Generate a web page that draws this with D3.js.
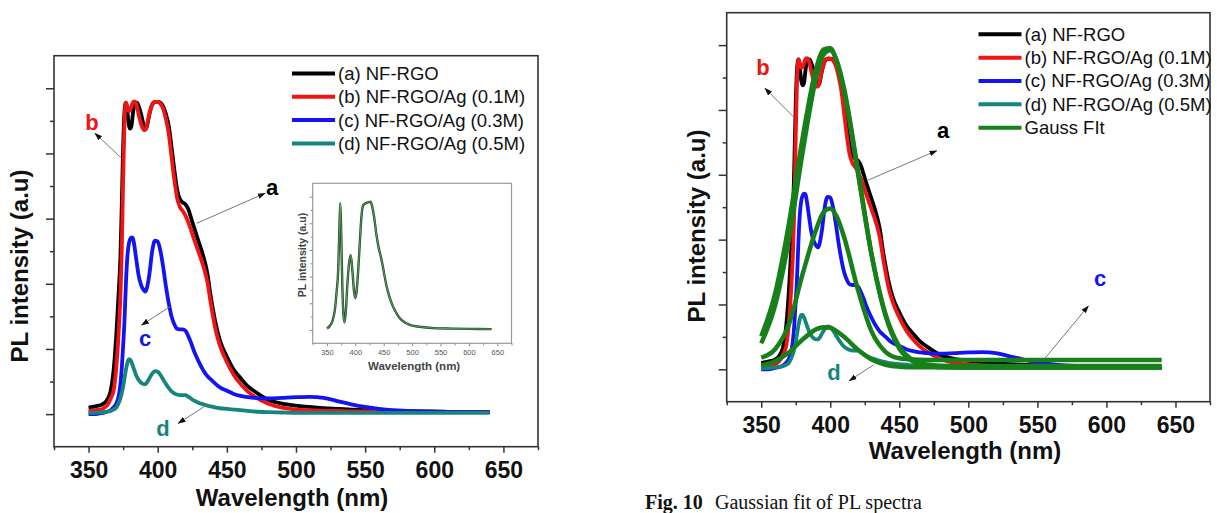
<!DOCTYPE html>
<meta charset="utf-8">
<style>

body {
  margin: 0;
  background: #fff;
}

svg {
  display: block;
  font-family: "Liberation Sans", Arial, sans-serif;
}

.axis path, .axis line {
  stroke: #333;
  stroke-width: 1.5;
}

.axis text {
  font: bold 23px "Liberation Sans", Arial, sans-serif;
  fill: #111;
}

.inset .axis path, .inset .axis line {
  stroke: #888;
  stroke-width: 1;
}

.inset .axis text {
  font: 7.5px "Liberation Sans", Arial, sans-serif;
  fill: #555;
}

.title {
  font-weight: bold;
  font-size: 24px;
  fill: #111;
}

.legend text {
  font-size: 18.5px;
  fill: #111;
}

.mark {
  font-weight: bold;
  font-size: 22px;
}

.pointer {
  stroke: #777;
  stroke-width: 1;
}

</style>
<svg width="1217" height="513"></svg>
<script src="https://d3js.org/d3.v7.min.js"></script>
<script>

// wavelength grid (nm) shared by the four measured spectra
var wave = [350,355,360,364,366,368,370,372,373,374,
            375,376,377,378,379,380,381,382,383,384,
            385,386,388,390,391,392,394,396,398,400,
            402,404,406,408,410,412,414,416,418,420,
            422,424,426,428,430,433,436,438,440,442,
            445,450,455,460,465,470,480,490,500,510,
            520,530,540,550,560,570,580,600,620,640];

// (a) NF-RGO
var pl_a = [0.10,0.12,0.15,0.24,0.36,0.65,1.2,1.95,2.4,3.2,
            4.1,4.65,4.78,4.65,4.45,4.38,4.42,4.6,4.74,4.78,
            4.78,4.74,4.6,4.42,4.37,4.4,4.6,4.75,4.79,4.79,
            4.78,4.72,4.6,4.42,4.1,3.75,3.45,3.3,3.25,3.22,
            3.15,3.02,2.88,2.75,2.62,2.42,2.15,1.85,1.6,1.38,
            1.13,0.88,0.68,0.55,0.43,0.35,0.22,0.16,0.13,0.11,
            0.09,0.08,0.07,0.06,0.05,0.05,0.04,0.04,0.03,0.03];

// (b) NF-RGO/Ag (0.1M)
var pl_b = [0.05,0.06,0.08,0.15,0.24,0.35,0.7,1.35,1.8,2.5,
            3.6,4.5,4.78,4.72,4.65,4.66,4.72,4.78,4.8,4.78,
            4.72,4.62,4.45,4.36,4.36,4.42,4.62,4.75,4.79,4.79,
            4.76,4.68,4.52,4.3,3.95,3.6,3.32,3.18,3.12,3.05,
            2.95,2.83,2.7,2.58,2.46,2.27,2.02,1.75,1.5,1.28,
            1.05,0.8,0.6,0.46,0.35,0.27,0.16,0.1,0.07,0.06,
            0.05,0.05,0.04,0.04,0.04,0.03,0.03,0.03,0.03,0.03];

// (c) NF-RGO/Ag (0.3M)
var pl_c = [0.0,0.0,0.02,0.04,0.06,0.1,0.16,0.3,0.45,0.7,
            1.05,1.45,2.0,2.4,2.6,2.68,2.71,2.7,2.6,2.45,
            2.3,2.15,1.98,1.9,1.88,1.92,2.15,2.5,2.66,2.65,
            2.5,2.25,1.95,1.7,1.5,1.38,1.31,1.3,1.3,1.28,
            1.2,1.1,0.98,0.88,0.79,0.67,0.58,0.54,0.5,0.46,
            0.41,0.36,0.31,0.28,0.26,0.25,0.24,0.25,0.26,0.265,
            0.25,0.2,0.15,0.11,0.08,0.06,0.05,0.035,0.03,0.03];

// (d) NF-RGO/Ag (0.5M)
var pl_d = [0.02,0.02,0.03,0.04,0.05,0.07,0.1,0.18,0.24,0.32,
            0.42,0.55,0.68,0.78,0.84,0.84,0.8,0.74,0.68,0.62,
            0.57,0.53,0.48,0.46,0.46,0.48,0.55,0.62,0.66,0.65,
            0.6,0.53,0.46,0.4,0.35,0.32,0.3,0.29,0.29,0.29,
            0.27,0.24,0.21,0.19,0.17,0.15,0.13,0.12,0.11,0.1,
            0.09,0.08,0.07,0.06,0.05,0.04,0.03,0.025,0.02,0.02,
            0.02,0.02,0.02,0.02,0.02,0.02,0.02,0.02,0.02,0.02];

// Gauss fit curves
var fitWave = [350,360,370,380,390,395,400,405,410,420,430,440,450,460,470,480,500,550,600,640];
var fit_a = [0.51,1.16,2.24,3.57,4.66,4.93,4.95,4.73,4.29,3.03,1.76,0.85,0.35,0.14,0.073,0.055,0.05,0.05,0.05,0.05];
var fit_b = [0.40,0.98,2.0,3.35,4.52,4.85,4.92,4.74,4.33,3.07,1.76,0.83,0.32,0.12,0.05,0.035,0.03,0.03,0.03,0.03];
var fit_c = [0.18,0.31,0.69,1.47,2.17,2.42,2.48,2.34,2.04,1.23,0.58,0.27,0.17,0.15,0.145,0.145,0.145,0.145,0.145,0.145];
var fit_d = [0.06,0.125,0.26,0.46,0.62,0.65,0.64,0.58,0.50,0.30,0.15,0.07,0.04,0.03,0.03,0.03,0.03,0.03,0.03,0.03];

// inset spectrum
var insetWave = [350,355,360,364,367,370,372,373.5,375,377,379,381,383,386,389,392,395,398,400,402,
                 405,408,411,414,418,423,427,430,433,437,441,446,450,455,460,465,470,478,486,496,
                 510,525,545,570,600,640];
var insetPL = [0.06,0.15,0.35,0.75,1.4,2.3,3.8,4.75,3.8,1.8,0.6,0.28,0.6,1.7,2.5,2.8,2.2,1.4,1.2,1.4,
               2.2,3.3,4.3,4.68,4.75,4.79,4.81,4.6,4.25,3.6,3.1,2.65,2.2,1.65,1.25,0.95,0.72,0.45,0.3,0.19,
               0.13,0.09,0.06,0.05,0.04,0.03];

var xTicks = [350,400,450,500,550,600,650];
var xMinor = [325,375,425,475,525,575,625,675];
var yTicks = [0,1,2,3,4,5];
var yMinor = [0.5,1.5,2.5,3.5,4.5];

var names = ["(a) NF-RGO", "(b) NF-RGO/Ag (0.1M)", "(c) NF-RGO/Ag (0.3M)", "(d) NF-RGO/Ag (0.5M)"];
var colors = ["#000000", "#f01414", "#1414f0", "#16857d"];
var fitName = "Gauss FIt";
var fitColor = "#17801a";

var svg = d3.select("svg");

svg.append("defs").append("marker")
    .attr("id", "head")
    .attr("viewBox", "0 0 10 10")
    .attr("refX", 9).attr("refY", 5)
    .attr("markerWidth", 8).attr("markerHeight", 8)
    .attr("orient", "auto")
  .append("path")
    .attr("d", "M0,1.5L10,5L0,8.5z")
    .attr("fill", "#111");

function frameAxes(g, x, y, box, cls, sizes) {
  g.append("rect")
      .attr("x", box.x0).attr("y", box.y0)
      .attr("width", box.x1 - box.x0).attr("height", box.y1 - box.y0)
      .attr("fill", "none")
      .attr("stroke", cls == "inset" ? "#999" : "#333")
      .attr("stroke-width", cls == "inset" ? 1.2 : 1.6);

  g.append("g").attr("class", "axis")
      .attr("transform", "translate(0," + box.y1 + ")")
      .call(d3.axisBottom(x).tickValues(xTicks).tickSize(sizes.major).tickSizeOuter(0).tickPadding(sizes.pad))
      .call(s => s.select(".domain").remove());
  g.append("g").attr("class", "axis")
      .attr("transform", "translate(0," + box.y1 + ")")
      .call(d3.axisBottom(x).tickValues(xMinor).tickSize(sizes.minor).tickSizeOuter(0).tickFormat(""))
      .call(s => s.select(".domain").remove());
  g.append("g").attr("class", "axis")
      .attr("transform", "translate(" + box.x0 + ",0)")
      .call(d3.axisLeft(y).tickValues(yTicks).tickSize(sizes.ymajor).tickSizeOuter(0).tickFormat(""))
      .call(s => s.select(".domain").remove());
  g.append("g").attr("class", "axis")
      .attr("transform", "translate(" + box.x0 + ",0)")
      .call(d3.axisLeft(y).tickValues(yMinor).tickSize(sizes.yminor).tickSizeOuter(0).tickFormat(""))
      .call(s => s.select(".domain").remove());
}

function pointer(g, from, to) {
  g.append("line")
      .attr("class", "pointer")
      .attr("x1", from[0]).attr("y1", from[1])
      .attr("x2", to[0]).attr("y2", to[1])
      .attr("marker-end", "url(#head)");
}

function drawPanel(p) {
  var x = d3.scaleLinear().domain([325, 675]).range([p.x0, p.x1]);
  var y = d3.scaleLinear().domain([-0.5, 5.5]).range([p.y1, p.y0]);
  var g = svg.append("g");

  frameAxes(g, x, y, p, "main", {major: 6, minor: 3.5, ymajor: 8, yminor: 4, pad: 9});

  var line = d3.line()
      .x((d, i) => x(wave[i]))
      .y(d => y(d))
      .curve(d3.curveMonotoneX);

  [pl_a, pl_b, pl_c, pl_d].forEach(function(s, i) {
    g.append("path")
        .attr("d", line(s))
        .attr("fill", "none")
        .attr("stroke", colors[i])
        .attr("stroke-width", 3.8)
        .attr("stroke-linejoin", "round");
  });

  if (p.fits) {
    var fline = d3.line()
        .x((d, i) => x(fitWave[i]))
        .y(d => y(d))
        .curve(d3.curveMonotoneX);
    [fit_d, fit_c, fit_b, fit_a].forEach(function(s) {
      g.append("path")
          .attr("d", fline(s))
          .attr("fill", "none")
          .attr("stroke", fitColor)
          .attr("stroke-width", 4.5)
          .attr("stroke-linejoin", "round");
    });
  }

  // axis titles
  g.append("text")
      .attr("class", "title")
      .attr("x", p.xt[0]).attr("y", p.xt[1])
      .attr("text-anchor", "middle")
      .text("Wavelength (nm)");
  g.append("text")
      .attr("class", "title")
      .attr("transform", "translate(" + p.yt[0] + "," + p.yt[1] + ") rotate(-90)")
      .attr("text-anchor", "middle")
      .text("PL intensity (a.u)");

  // legend
  var leg = g.append("g").attr("class", "legend");
  var items = names.map((n, i) => ({name: n, color: colors[i]}));
  if (p.fits) items.push({name: fitName, color: fitColor});
  items.forEach(function(d, i) {
    var ly = p.leg[1] + i * p.leg[2];
    leg.append("line")
        .attr("x1", p.leg[0]).attr("x2", p.leg[0] + 43)
        .attr("y1", ly).attr("y2", ly)
        .attr("stroke", d.color)
        .attr("stroke-width", 4);
    leg.append("text")
        .attr("x", p.leg[0] + 46).attr("y", ly)
        .attr("dy", "0.35em")
        .text(d.name);
  });

  // letter marks with pointers
  p.marks.forEach(function(m, i) {
    pointer(g, m.from, m.to);
    g.append("text")
        .attr("class", "mark")
        .attr("x", m.at[0]).attr("y", m.at[1])
        .attr("dy", "0.35em")
        .attr("text-anchor", "middle")
        .attr("fill", colors[m.k])
        .text("abcd"[m.k]);
  });

  return g;
}

drawPanel({
  x0: 54, x1: 538, y0: 55.7, y1: 446.7,
  xt: [292, 506], yt: [28, 266],
  leg: [292, 73.5, 23.3],
  fits: false,
  marks: [
    {k: 1, at: [92, 122], from: [121.7, 158.3], to: [95, 133.3]},
    {k: 0, at: [272, 187], from: [196.7, 223.3], to: [265, 193.3]},
    {k: 2, at: [145, 338], from: [170, 306.7], to: [141.7, 325]},
    {k: 3, at: [163, 428], from: [206.7, 405], to: [178.3, 423.3]}
  ]
});

drawPanel({
  x0: 726.7, x1: 1210, y0: 12.7, y1: 401.7,
  xt: [965, 459], yt: [705, 226],
  leg: [978.5, 34.3, 23.35],
  fits: true,
  marks: [
    {k: 1, at: [763, 67], from: [793.3, 116.7], to: [765, 88.3]},
    {k: 0, at: [943, 130], from: [868.3, 180], to: [936.7, 150.7]},
    {k: 2, at: [1100, 278], from: [1045, 358.3], to: [1088.3, 306]},
    {k: 3, at: [834, 372], from: [873.3, 365], to: [849.3, 380.7]}
  ]
});

// inset in the left panel
(function() {
  var box = {x0: 312.7, x1: 511.5, y0: 183.3, y1: 343.3};
  var x = d3.scaleLinear().domain([325, 675]).range([box.x0, box.x1]);
  var y = d3.scaleLinear().domain([-0.5, 5.5]).range([box.y1, box.y0]);
  var g = svg.append("g").attr("class", "inset");

  g.append("rect")
      .attr("x", box.x0).attr("y", box.y0)
      .attr("width", box.x1 - box.x0).attr("height", box.y1 - box.y0)
      .attr("fill", "#fff");

  frameAxes(g, x, y, box, "inset", {major: 3, minor: 2, ymajor: 3, yminor: 2, pad: 3});

  var line = d3.line()
      .x((d, i) => x(insetWave[i]))
      .y(d => y(d))
      .curve(d3.curveMonotoneX);
  g.append("path")
      .attr("d", line(insetPL))
      .attr("fill", "none")
      .attr("stroke", "#24452a")
      .attr("stroke-width", 2.4);
  g.append("path")
      .attr("d", line(insetPL))
      .attr("fill", "none")
      .attr("stroke", "#5fae5f")
      .attr("stroke-width", 0.9);

  g.append("text")
      .attr("x", (box.x0 + box.x1) / 2 + 2).attr("y", 370)
      .attr("text-anchor", "middle")
      .attr("font-size", 11.5).attr("font-weight", "bold").attr("fill", "#444")
      .text("Wavelength (nm)");
  g.append("text")
      .attr("transform", "translate(306,255) rotate(-90)")
      .attr("text-anchor", "middle")
      .attr("font-size", 10.5).attr("font-weight", "bold").attr("fill", "#444")
      .text("PL intensity (a.u)");
})();

// caption under the right panel
var cap = svg.append("text")
    .attr("x", 645).attr("y", 509)
    .attr("font-family", "'Liberation Serif', 'Times New Roman', serif")
    .attr("font-size", 20)
    .attr("fill", "#111");
cap.append("tspan").attr("font-weight", "bold").text("Fig. 10");
cap.append("tspan").attr("x", 715).text("Gaussian fit of PL spectra");

</script>
